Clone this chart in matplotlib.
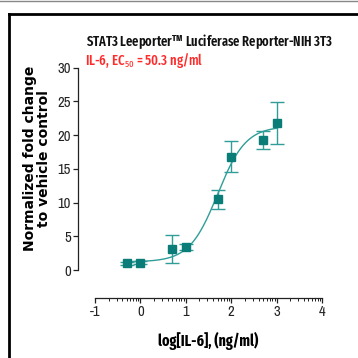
import numpy as np
import matplotlib.pyplot as plt
from matplotlib.lines import Line2D

narrow = ['Archivo Narrow', 'DejaVu Sans']
narrow_bold = ['Fira Sans Extra Condensed', 'DejaVu Sans']
plt.rcParams['mathtext.fontset'] = 'custom'
plt.rcParams['mathtext.rm'] = 'Fira Sans Extra Condensed'
plt.rcParams['mathtext.bf'] = 'Fira Sans Extra Condensed:bold'

# 数据: log[IL-6] (ng/ml) 与归一化倍数
log_conc = [-0.3, 0.0, 0.7, 1.0, 1.7, 2.0, 2.7, 3.0]
fold = [1.0, 1.1, 3.1, 3.4, 10.5, 16.8, 19.3, 21.8]
err = [0.2, 0.2, 2.1, 0.4, 1.4, 2.3, 1.3, 3.1]

# 4PL 拟合参数
bottom, top, hill = 1.2, 21.3, 1.4
ec50 = 50.3

teal = '#0b7d78'
teal_light = '#2f9d98'

fig = plt.figure(figsize=(3.58, 3.58), dpi=100)
ax = fig.add_axes([0.2654, 0.2458, 0.634, 0.5656])

# 拟合曲线
xf = np.linspace(min(log_conc), max(log_conc), 200)
yf = bottom + (top - bottom) / (1 + 10 ** (hill * (np.log10(ec50) - xf)))
ax.plot(xf, yf, color=teal_light, lw=1.0, clip_on=False)

ax.errorbar(log_conc, fold, yerr=err, fmt='none', ecolor=teal_light,
            elinewidth=1.0, capsize=5, capthick=1.0, clip_on=False)
ax.plot(log_conc, fold, 's', color=teal, ms=6, clip_on=False)

ax.set_xlim(-1, 4)
ax.set_ylim(0, 30)
ax.set_yticks(range(0, 31, 5))
ax.set_xticks(range(-1, 5))
minors = [d + np.log10(m) for d in range(-1, 4) for m in range(2, 10)]
ax.set_xticks(minors, minor=True)

for s in ['top', 'right']:
    ax.spines[s].set_visible(False)
ax.spines['left'].set_position(('outward', 12))
ax.spines['bottom'].set_position(('outward', 20))
for s in ['left', 'bottom']:
    ax.spines[s].set_color('#222222')
    ax.spines[s].set_linewidth(0.9)

ax.tick_params(axis='both', which='major', length=3.5, width=0.9, color='#222222',
               labelsize=10.5, pad=2)
ax.tick_params(axis='x', which='minor', length=2, width=0.7, color='#222222')
ax.set_xticklabels(['-1', '0', '1', '2', '3', '4'])
for lab in ax.get_xticklabels() + ax.get_yticklabels():
    lab.set_family(narrow)
    lab.set_color('#222222')

ax.set_xlabel('log[IL-6], (ng/ml)', family=narrow_bold, fontweight='bold', fontsize=11,
              labelpad=9)
fig.text(0.103, 0.558, 'Normalized fold change\nto vehicle control', rotation=90,
         family='DejaVu Sans', ha='center', va='center',
         fontsize=10, fontweight='bold', linespacing=1.05)

fig.text(0.24, 0.881, r'STAT3 Leeporter$^{\mathbf{TM}}$ Luciferase Reporter-NIH 3T3',
         family=narrow_bold, fontweight='semibold', fontsize=9.8, va='center', color='#111111')
fig.text(0.238, 0.832, r'IL-6, EC$_{\mathrm{50}}$ = 50.3 ng/ml', family=narrow_bold,
         fontweight='medium', fontsize=10, va='center', color='#ff2a2a')

# 外框
fig.add_artist(Line2D([0, 1], [0.998, 0.998], color='#888888', lw=1))
fig.add_artist(Line2D([0.025, 1], [0.961, 0.961], color='black', lw=2))
fig.add_artist(Line2D([0.025, 0.025], [0, 0.961], color='black', lw=2))

plt.savefig('out.png', dpi=100)
